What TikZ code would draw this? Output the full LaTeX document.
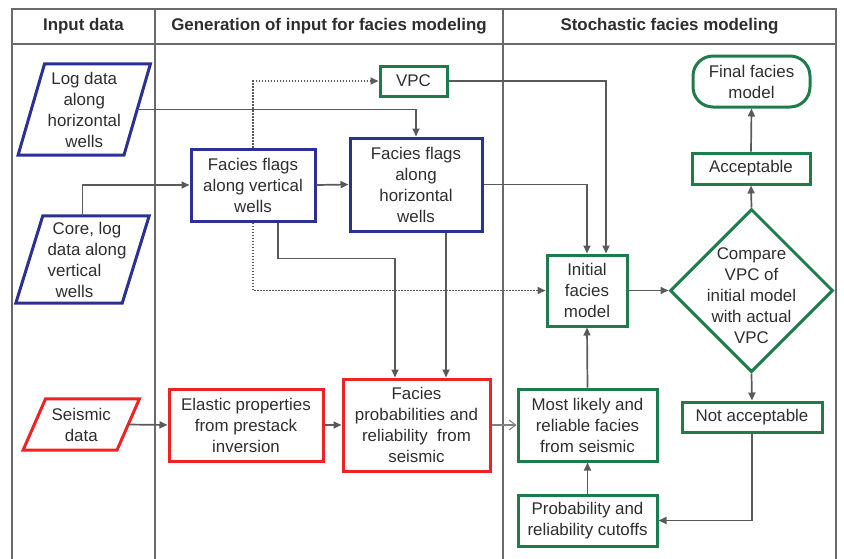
\documentclass[tikz,border=0pt]{standalone}
\usepackage{fontspec}
\setmainfont{Liberation Sans}
\usetikzlibrary{arrows.meta,shapes.geometric}
\definecolor{fblue}{HTML}{2B3192}
\definecolor{fgreen}{HTML}{1E7B4B}
\definecolor{fred}{HTML}{EE2324}
\definecolor{lgray}{HTML}{5A5A5A}
\definecolor{framegray}{HTML}{6A6A6A}
\definecolor{txt}{HTML}{2E2E2E}
\begin{document}
\begin{tikzpicture}[x=1pt,y=-1pt,
  every node/.style={font=\fontsize{16.9}{21}\selectfont, text=txt, align=center, inner sep=0pt},
  hdr/.style={font=\fontsize{16.9}{20}\selectfont\bfseries},
  box/.style={draw, rectangle, line width=3pt},
  bluebox/.style={box, draw=fblue},
  greenbox/.style={box, draw=fgreen},
  redbox/.style={box, draw=fred},
  para/.style={line width=3pt, line join=miter},
  frame/.style={draw=framegray, line width=1.9pt},
  conn/.style={draw=lgray, line width=1.7pt, -{Triangle[length=8pt,width=7pt]}},
  dotconn/.style={conn, dash pattern=on 1.5pt off 1.5pt},
  openconn/.style={draw=gray, line width=1.1pt, -{Straight Barb[length=6.5pt,width=10pt]}},
]
\useasboundingbox (0,0) rectangle (844,558);
% frame
\draw[frame] (12,560) -- (12,9) -- (836,9) -- (836,560);
\draw[frame] (12,44) -- (836,44);
\draw[frame] (155,9) -- (155,560);
\draw[frame] (503,9) -- (503,560);
\node[hdr] (h1) at (83.5,26) {Input data};
\node[hdr] (h2) at (329,26) {Generation of input for facies modeling};
\node[hdr] (h3) at (669.5,26) {Stochastic facies modeling};

% input parallelograms
\node[minimum width=105.5pt, minimum height=91pt] (logd) at (84.25,109.5) {Log data\\along\\horizontal\\wells};
\draw[para, fblue] ([xshift=13.25pt]logd.north west) -- ([xshift=13.25pt]logd.north east) -- ([xshift=-13.25pt]logd.south east) -- ([xshift=-13.25pt]logd.south west) -- cycle;
\node[minimum width=106pt, minimum height=87pt] (core) at (82.5,259.5) {\kern9pt Core, log\\\kern9pt data along\\vertical\kern16pt\\wells\kern16pt};
\draw[para, fblue] ([xshift=13.5pt]core.north west) -- ([xshift=13.5pt]core.north east) -- ([xshift=-13.5pt]core.south east) -- ([xshift=-13.5pt]core.south west) -- cycle;
\node[minimum width=93.5pt, minimum height=51pt] (seis) at (81.25,424.5) {Seismic\\data};
\draw[para, fred] ([xshift=11.25pt]seis.north west) -- ([xshift=11.25pt]seis.north east) -- ([xshift=-11.25pt]seis.south east) -- ([xshift=-11.25pt]seis.south west) -- cycle;

% generation column
\node[bluebox, minimum width=124pt, minimum height=72pt] (flagsV) at (253,185) {Facies flags\\along vertical\\wells};
\node[greenbox, minimum width=67pt, minimum height=30pt] (vpc) at (413.5,81) {VPC};
\node[bluebox, minimum width=132pt, minimum height=93pt] (flagsH) at (416,184.5) {Facies flags\\along\\horizontal\\wells};
\node[redbox, minimum width=154pt, minimum height=72pt] (elastic) at (246,425) {Elastic properties\\from prestack\\inversion};
\node[redbox, minimum width=147pt, minimum height=92pt] (facprob) at (416.5,425) {Facies\\probabilities and\\reliability\ \ from\\seismic};

% stochastic column
\node[greenbox, minimum width=80pt, minimum height=71pt] (initial) at (587,290.5) {Initial\\facies\\model};
\node[greenbox, rounded corners=20pt, minimum width=117pt, minimum height=51pt] (final) at (751.5,81.5) {Final facies\\model};
\node[greenbox, minimum width=118pt, minimum height=31pt] (accept) at (751,168.5) {Acceptable};
\node[draw=fgreen, line width=3pt, diamond, minimum width=163pt, minimum height=163pt] (cmp) at (751.5,290.5) {};
\node (cmptxt) at (751.5,296) {Compare\\VPC of\\initial model\\with actual\\VPC};
\node[greenbox, minimum width=140pt, minimum height=30pt] (notacc) at (752,417) {Not acceptable};
\node[greenbox, minimum width=139pt, minimum height=72pt] (likely) at (587.5,425) {Most likely and\\reliable facies\\from seismic};
\node[greenbox, minimum width=139pt, minimum height=51pt] (cutoff) at (587.5,520.5) {Probability and\\reliability cutoffs};

% connectors
\draw[conn] (logd.east) -| (flagsH.north);
\draw[conn] (core.north) |- (flagsV.west);
\draw[conn] (flagsV.east) -- (flagsH.west);
\draw[dotconn] (flagsV.north) |- (vpc.west);
\draw[dotconn] (flagsV.south) |- (initial.west);
\draw[conn] ([xshift=25pt]flagsV.south) -- ++(0,36) -| ([xshift=-21.5pt]facprob.north);
\draw[conn] ([xshift=30pt]flagsH.south) -- ([xshift=30pt]flagsH.south |- facprob.north);
\draw[conn] (flagsH.east) -| (initial.north);
\draw[conn] (vpc.east) -| ([xshift=19pt]initial.north);
\draw[conn] (seis.east) -- (elastic.west);
\draw[conn] (elastic.east) -- (facprob.west);
\draw[openconn] (facprob.east) -- (likely.west);
\draw[conn] (likely.north) -- (initial.south);
\draw[conn] (cutoff.north) -- (likely.south);
\draw[conn] (initial.east) -- (cmp.west);
\draw[conn] (cmp.north) -- (accept.south);
\draw[conn] (accept.north) -- (final.south);
\draw[conn] (cmp.south) -- (notacc.north);
\draw[conn] (notacc.south) |- (cutoff.east);
\end{tikzpicture}
\end{document}
